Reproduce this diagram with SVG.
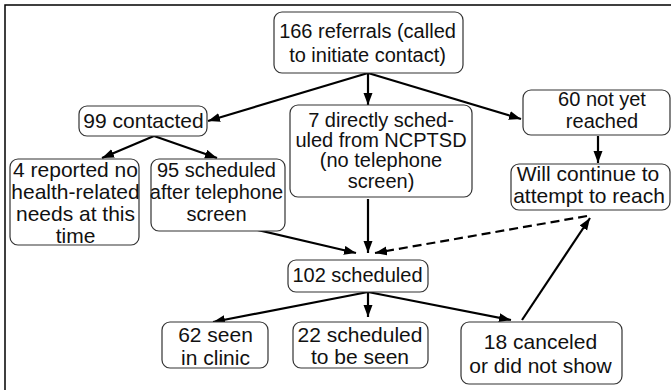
<svg xmlns="http://www.w3.org/2000/svg" width="671" height="390" viewBox="0 0 671 390">
<style>
.box{fill:#fff;stroke:#333;stroke-width:1.2}
.t{font-family:"Liberation Sans",Arial,sans-serif;fill:#111;text-anchor:middle}
.s20{font-size:20px}
.s21{font-size:21px}
.c{stroke:#000;stroke-width:2.2;fill:none;marker-end:url(#ah)}
.d{stroke-dasharray:9 5}
</style>
<defs>
<marker id="ah" markerUnits="userSpaceOnUse" markerWidth="13" markerHeight="10" refX="12" refY="4.5" orient="auto">
<path d="M0,0 L12,4.5 L0,9 Z" fill="#000"/>
</marker>
</defs>
<rect x="0" y="0" width="671" height="390" fill="#fff"/>
<rect x="5" y="5" width="680" height="400" fill="none" stroke="#000" stroke-width="1.5"/>
<g id="connectors">
<path class="c" d="M368,73 L208,121"/>
<path class="c" d="M368,73 L368,105"/>
<path class="c" d="M368,73 L521,119"/>
<path class="c" d="M598,136 L598,163"/>
<path class="c" d="M154,136 L102,158"/>
<path class="c" d="M154,136 L217,158"/>
<path class="c" d="M253,229 L356,253"/>
<path class="c" d="M368,199 L368,253"/>
<path class="c d" d="M587,216 L375,253"/>
<path class="c" d="M368,292 L213,322"/>
<path class="c" d="M368,292 L368,317"/>
<path class="c" d="M368,292 L511,320"/>
<path class="c" d="M522,320 L590,218"/>
</g>
<g id="n166">
<rect class="box" x="274" y="12" width="189" height="61" rx="8"/>
<text class="t s20" x="367.5" y="38">166 referrals (called</text>
<text class="t s20" x="367.5" y="62">to initiate contact)</text>
</g>
<g id="n99">
<rect class="box" x="79" y="106" width="128" height="30" rx="8"/>
<text class="t s21" x="143.5" y="128">99 contacted</text>
</g>
<g id="n7">
<rect class="box" x="290" y="105" width="182" height="92" rx="8"/>
<text class="t s20" x="381" y="127">7 directly sched-</text>
<text class="t s20" x="381" y="147">uled from NCPTSD</text>
<text class="t s20" x="381" y="167">(no telephone</text>
<text class="t s20" x="381" y="188">screen)</text>
</g>
<g id="n60">
<rect class="box" x="523" y="90" width="147" height="45" rx="8"/>
<text class="t s20" x="602" y="106">60 not yet</text>
<text class="t s20" x="602" y="128">reached</text>
</g>
<g id="nwill">
<rect class="box" x="511" y="164" width="159" height="46" rx="8"/>
<text class="t s21" x="588" y="181">Will continue to</text>
<text class="t s21" x="589" y="203">attempt to reach</text>
</g>
<g id="n4">
<rect class="box" x="10" y="159" width="129" height="86" rx="8"/>
<text class="t s21" x="75.5" y="177">4 reported no</text>
<text class="t s21" x="75.5" y="199">health-related</text>
<text class="t s21" x="75.5" y="221">needs at this</text>
<text class="t s21" x="75.5" y="243">time</text>
</g>
<g id="n95">
<rect class="box" x="151" y="159" width="134" height="72" rx="8"/>
<text class="t s20" x="216.5" y="177">95 scheduled</text>
<text class="t s20" x="216.5" y="199">after telephone</text>
<text class="t s20" x="216.5" y="221">screen</text>
</g>
<g id="n102">
<rect class="box" x="288" y="260" width="140" height="32" rx="8"/>
<text class="t s20" x="357.5" y="282">102 scheduled</text>
</g>
<g id="n62">
<rect class="box" x="162" y="322" width="106" height="46" rx="8"/>
<text class="t s21" x="215.5" y="342">62 seen</text>
<text class="t s21" x="215.5" y="365">in clinic</text>
</g>
<g id="n22">
<rect class="box" x="293" y="322" width="135" height="46" rx="8"/>
<text class="t s21" x="360" y="342">22 scheduled</text>
<text class="t s21" x="360" y="364">to be seen</text>
</g>
<g id="n18">
<rect class="box" x="461" y="322" width="161" height="62" rx="8"/>
<text class="t s21" x="540.5" y="349">18 canceled</text>
<text class="t s21" x="540.5" y="373">or did not show</text>
</g>
</svg>
